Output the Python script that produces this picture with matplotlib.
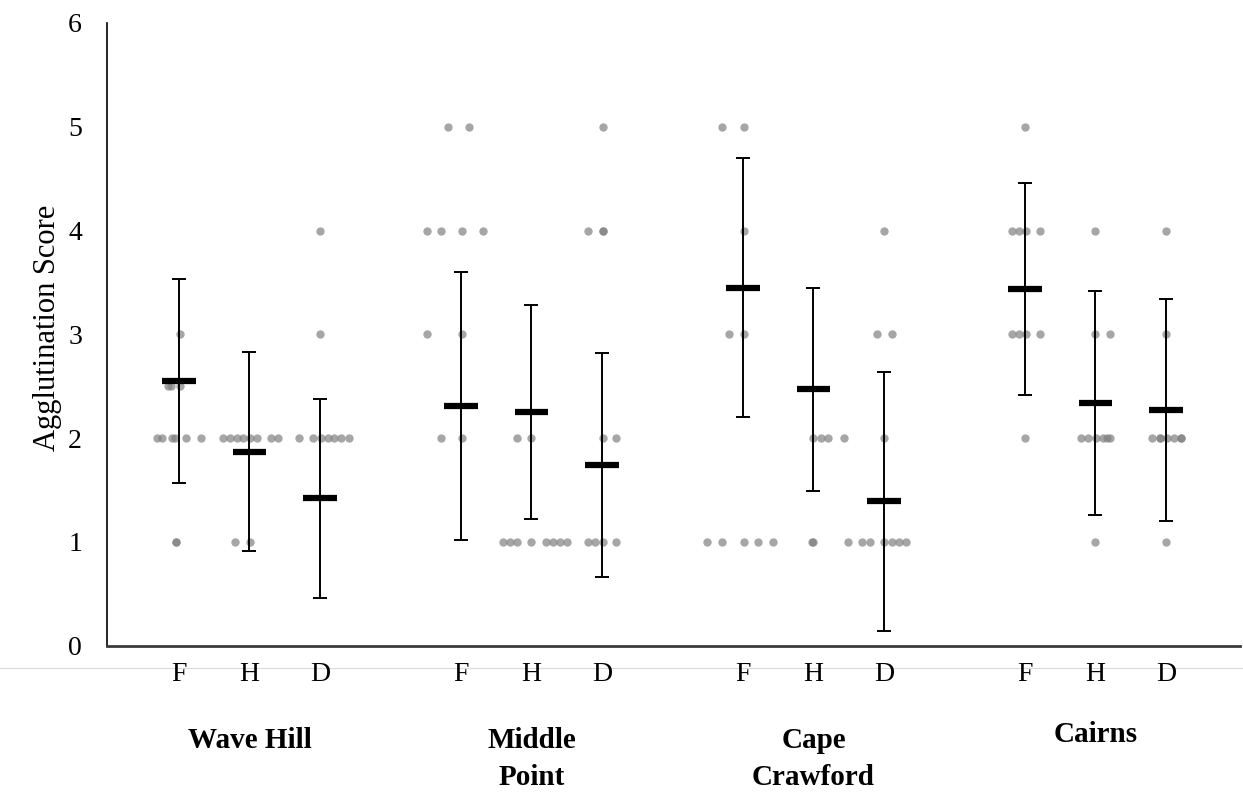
import numpy as np
import matplotlib
matplotlib.use("Agg")
import matplotlib.pyplot as plt
from matplotlib.lines import Line2D

plt.rcParams['font.family'] = ['Liberation Serif', 'DejaVu Serif']

# sites and treatments
sites = ['Wave Hill', 'Middle\nPoint', 'Cape\nCrawford', 'Cairns']
treatments = ['F', 'H', 'D']

# mean score and error (sd) for each site/treatment, F H D order
wave_hill_mean = [2.55, 1.87, 1.42]
wave_hill_err = [0.98, 0.96, 0.96]
middle_point_mean = [2.31, 2.25, 1.74]
middle_point_err = [1.29, 1.03, 1.08]
cape_crawford_mean = [3.45, 2.47, 1.39]
cape_crawford_err = [1.25, 0.975, 1.25]
cairns_mean = [3.44, 2.34, 2.27]
cairns_err = [1.02, 1.08, 1.07]

# individual scores and their horizontal jitter
wh_f = [3, 2.5, 2.5, 2.5, 2, 2, 2, 2, 2, 2, 1, 1]
wh_f_jit = [0.01, -0.16, -0.11, 0.01, -0.31, -0.24, -0.10, -0.06, 0.10, 0.31, -0.04, -0.04]
wh_h = [2, 2, 2, 2, 2, 2, 2, 2, 1, 1]
wh_h_jit = [-0.38, -0.28, -0.18, -0.09, 0.01, 0.11, 0.31, 0.41, -0.20, 0.01]
wh_d = [4, 3, 2, 2, 2, 2, 2, 2, 2]
wh_d_jit = [0, 0, -0.30, -0.10, 0.01, 0.11, 0.20, 0.30, 0.41]

mp_f = [5, 5, 4, 4, 4, 4, 3, 3, 2, 2]
mp_f_jit = [-0.18, 0.11, -0.48, -0.28, 0.01, 0.31, -0.48, 0.01, -0.28, 0.01]
mp_h = [2, 2, 1, 1, 1, 1, 1, 1, 1, 1]
mp_h_jit = [-0.20, 0, -0.40, -0.30, -0.20, 0, 0.21, 0.31, 0.41, 0.51]
mp_d = [5, 4, 4, 4, 2, 2, 1, 1, 1, 1]
mp_d_jit = [0.01, -0.20, 0.01, 0.01, 0.01, 0.20, -0.20, -0.10, 0.01, 0.20]

cc_f = [5, 5, 4, 3, 3, 1, 1, 1, 1, 1]
cc_f_jit = [-0.30, 0.01, 0.01, -0.20, 0.01, -0.51, -0.30, 0.01, 0.21, 0.43]
cc_h = [2, 2, 2, 2, 1, 1]
cc_h_jit = [0, 0.11, 0.21, 0.43, -0.02, 0.0]
cc_d = [4, 3, 3, 2, 1, 1, 1, 1, 1, 1, 1]
cc_d_jit = [0, -0.10, 0.11, 0, -0.51, -0.31, -0.20, 0, 0.11, 0.21, 0.31]

ca_f = [5, 4, 4, 4, 4, 3, 3, 3, 3, 2]
ca_f_jit = [0, -0.18, -0.09, 0.01, 0.21, -0.18, -0.09, 0.01, 0.21, 0]
ca_h = [4, 3, 3, 2, 2, 2, 2, 2, 2, 1]
ca_h_jit = [0, 0, 0.20, -0.20, -0.10, 0.01, 0.11, 0.17, 0.20, 0]
ca_d = [4, 3, 2, 2, 2, 2, 2, 2, 2, 1]
ca_d_jit = [0, 0, -0.20, -0.09, -0.09, 0.01, 0.11, 0.21, 0.21, 0]


def main():
    means = [wave_hill_mean, middle_point_mean, cape_crawford_mean, cairns_mean]
    errs = [wave_hill_err, middle_point_err, cape_crawford_err, cairns_err]
    dots = [[(wh_f, wh_f_jit), (wh_h, wh_h_jit), (wh_d, wh_d_jit)],
            [(mp_f, mp_f_jit), (mp_h, mp_h_jit), (mp_d, mp_d_jit)],
            [(cc_f, cc_f_jit), (cc_h, cc_h_jit), (cc_d, cc_d_jit)],
            [(ca_f, ca_f_jit), (ca_h, ca_h_jit), (ca_d, ca_d_jit)]]

    fig = plt.figure(figsize=(12.43, 7.92), dpi=100)
    ax = fig.add_axes([0.0861, 0.1847, 0.9115, 0.7863])

    positions = []
    for g in range(len(sites)):
        for i in range(len(treatments)):
            x = 4 * g + i + 1
            positions.append(x)
            vals, jit = dots[g][i]
            ax.plot(x + np.array(jit), vals, 'o', ms=6, color='#808080',
                    alpha=0.7, mec='none', zorder=2)
            ax.errorbar(x, means[g][i], yerr=errs[g][i], fmt='none',
                        ecolor='black', elinewidth=1.4, capsize=5,
                        capthick=1.4, zorder=3)
            ax.plot([x - 0.235, x + 0.235], [means[g][i]] * 2, color='black',
                    lw=4.5, solid_capstyle='butt', zorder=4)

    ax.set_xlim(-0.02, 16.05)
    ax.set_ylim(0, 6)
    ax.set_xticks(positions)
    ax.set_xticklabels(treatments * len(sites), fontsize=20)
    ax.set_yticks(range(7))
    ax.tick_params(axis='y', length=0, pad=18, labelsize=20)
    ax.tick_params(axis='x', length=0, pad=12)

    for s in ['top', 'right']:
        ax.spines[s].set_visible(False)
    ax.spines['left'].set_linewidth(1.2)
    ax.spines['left'].set_color('black')
    ax.spines['bottom'].set_linewidth(2.0)
    ax.spines['bottom'].set_color('#3a3a3a')

    ax.set_ylabel('Agglutination Score', fontsize=22, va='center')
    ax.yaxis.set_label_coords(-0.0525, 0.51)

    # site names under each group
    label_y = [-0.131, -0.131, -0.131, -0.121]
    for g in range(len(sites)):
        ax.text(4 * g + 2, label_y[g], sites[g], transform=ax.get_xaxis_transform(),
                ha='center', va='top', fontsize=21, fontweight='bold',
                linespacing=1.45)

    # faint line across the figure behind the F/H/D labels
    fig.add_artist(Line2D([0, 1], [1 - 668 / 792] * 2, color='#d9d9d9', lw=0.8,
                          transform=fig.transFigure, zorder=0))

    fig.savefig('out.png', dpi=100)


main()
